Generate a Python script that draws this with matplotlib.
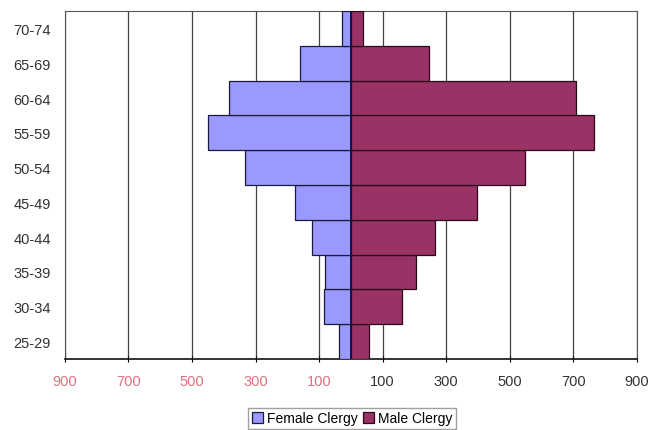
import matplotlib
matplotlib.use("Agg")
import matplotlib.pyplot as plt
import numpy as np

# age groups, bottom to top
age_groups = ["25-29", "30-34", "35-39", "40-44", "45-49",
              "50-54", "55-59", "60-64", "65-69", "70-74"]
female_clergy = [36, 85, 80, 123, 175, 334, 451, 383, 159, 27]
male_clergy = [58, 160, 204, 265, 398, 547, 765, 707, 246, 38]
x_ticks = [-900, -700, -500, -300, -100, 100, 300, 500, 700, 900]

plt.rcParams['font.family'] = ['Liberation Sans', 'DejaVu Sans']

fig = plt.figure(figsize=(6.62, 4.31), dpi=100)
ax = fig.add_axes([0.098, 0.165, 0.864, 0.807])

y = np.arange(len(age_groups))
ax.barh(y, -np.array(female_clergy), height=1.0, color='#9999ff',
        edgecolor='#1a1a3a', linewidth=0.9, label='Female Clergy', zorder=3)
ax.barh(y, male_clergy, height=1.0, color='#993366',
        edgecolor='#2a0a1a', linewidth=0.9, label='Male Clergy', zorder=3)
ax.axvline(0, color='#10103a', linewidth=1.3, zorder=4)

ax.set_xlim(-900, 900)
ax.set_ylim(-0.5, len(age_groups) - 0.5)
ax.set_xticks(x_ticks)
ax.set_xticklabels([str(abs(v)) for v in x_ticks])
for lbl, v in zip(ax.get_xticklabels(), x_ticks):
    lbl.set_color('#e07080' if v < 0 else '#333333')
ax.set_yticks(y)
ax.set_yticklabels(age_groups)
ax.tick_params(axis='y', length=0, pad=10, labelsize=10.5, colors='#333333')
ax.tick_params(axis='x', length=4, direction='inout', pad=9, labelsize=10.5)

ax.grid(axis='x', color='#444444', linewidth=0.9, zorder=0)
for s in ['top', 'right', 'left']:
    ax.spines[s].set_color('#555555')
    ax.spines[s].set_linewidth(0.8)
ax.spines['bottom'].set_color('#111111')
ax.spines['bottom'].set_linewidth(1.2)

fig.legend(loc='upper center', bbox_to_anchor=(0.532, 0.052), ncol=2,
           fontsize=10, frameon=True, fancybox=False, edgecolor='#888888',
           handlelength=0.8, handleheight=0.8, handletextpad=0.3,
           columnspacing=0.4, borderpad=0.25, borderaxespad=0)

fig.savefig('out.png', dpi=100)
